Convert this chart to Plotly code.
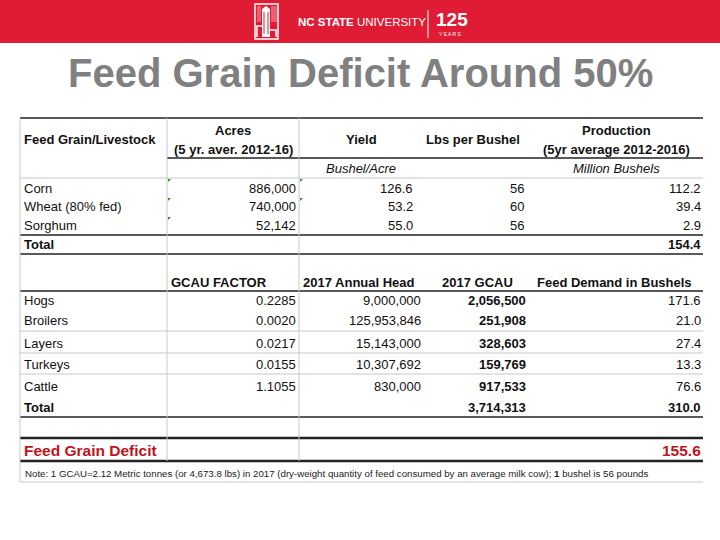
import plotly.graph_objects as go

# ---- data ----
grain_names = ["Corn", "Wheat (80% fed)", "Sorghum"]
grain_acres = [886000, 740000, 52142]
grain_yield = [126.6, 53.2, 55.0]
grain_lbs = [56, 60, 56]
grain_production = [112.2, 39.4, 2.9]
grain_total = 154.4

livestock_names = ["Hogs", "Broilers", "Layers", "Turkeys", "Cattle"]
gcau_factor = [0.2285, 0.0020, 0.0217, 0.0155, 1.1055]
annual_head = [9000000, 125953846, 15143000, 10307692, 830000]
gcau_2017 = [2056500, 251908, 328603, 159769, 917533]
feed_demand = [171.6, 21.0, 27.4, 13.3, 76.6]
gcau_total = 3714313
demand_total = 310.0
deficit = 155.6

title = "Feed Grain Deficit Around 50%"
note = ("Note: 1 GCAU=2.12 Metric tonnes (or 4,673.8 lbs) in 2017 (dry-weight quantity of "
        "feed consumed by an average milk cow); <b>1</b> bushel is 56 pounds")

# ---- layout (pixel-like axis units) ----
RED = "#e01c35"
DARK = "#222222"
GRID = "#c8c8c8"
FONT = "Liberation Sans, Arial, sans-serif"

L, R = 20, 703
C1, C2 = 167, 299
grain_rows = [188, 206, 225]
stock_rows = [300, 320, 343, 364, 386]

fig = go.Figure()
ann = []


def txt(x, y, s, anchor="left", size=13, color="#111111", family=FONT):
    ann.append(dict(x=x, y=y, xref="x", yref="y", text=s, showarrow=False,
                    xanchor=anchor, yanchor="middle",
                    font=dict(size=size, color=color, family=family)))


shapes = []


def hline(y, x0=L, x1=R, color=DARK, width=1.5):
    shapes.append(dict(type="line", xref="x", yref="y", x0=x0, x1=x1, y0=y, y1=y,
                       line=dict(color=color, width=width)))


def vline(x, y0, y1, color=GRID, width=1):
    shapes.append(dict(type="line", xref="x", yref="y", x0=x, x1=x, y0=y0, y1=y1,
                       line=dict(color=color, width=width)))


# banner
shapes.append(dict(type="rect", xref="x", yref="y", x0=0, x1=720, y0=0, y1=43,
                   fillcolor=RED, line=dict(width=0), layer="below"))
# logo (rough belltower mark)
shapes.append(dict(type="rect", xref="x", yref="y", x0=255, x1=278, y0=4, y1=39,
                   line=dict(color="white", width=1.5)))
for lx in [258, 260, 272, 274, 276]:
    vline(lx, 6, 22, color="#f4a0aa", width=1)
shapes.append(dict(type="path", xref="x", yref="y",
                   path="M 262 37 L 262 9 L 266 6 L 270 9 L 270 37 Z",
                   fillcolor="white", line=dict(width=0)))
shapes.append(dict(type="path", xref="x", yref="y",
                   path="M 257 37 L 257 26 L 262 26 M 270 30 L 276 30 L 276 37",
                   line=dict(color="white", width=1.5)))
vline(264, 12, 34, color=RED, width=1)
vline(268, 12, 34, color=RED, width=1)
txt(296, 22, "<b>NC STATE</b> UNIVERSITY", size=11.5, color="white")
vline(428, 10, 38, color="white", width=1)
txt(434, 19, "<b>125</b>", size=19, color="white")
txt(437, 34, "Y E A R S", size=5, color="white")

# title
txt(360, 73, "<b>" + title + "</b>", anchor="center", size=40, color="#808080")

# ---- grid lines ----
hline(118)
hline(158, x0=C1)
hline(178, color=GRID, width=1)
hline(235)
hline(254)
hline(291)
for y in [331, 353, 374]:
    hline(y, color=GRID, width=1)
hline(417)
hline(438, width=2.5)
hline(461, width=2.5)
hline(482, color=GRID, width=1)
vline(L, 118, 482)
vline(C1, 118, 461)
vline(C2, 118, 461)

# green error markers
for gx, gy in [(C1, 179), (C1, 198), (C1, 217), (C2, 179), (C2, 198)]:
    shapes.append(dict(type="path", xref="x", yref="y",
                       path=f"M {gx+1} {gy} L {gx+4} {gy} L {gx+1} {gy+3} Z",
                       fillcolor="#2e8b2e", line=dict(width=0)))

# ---- section 1: feed grain ----
txt(L + 2, 139, "<b>Feed Grain/Livestock</b>")
txt(233, 130, "<b>Acres</b>", anchor="center")
txt(233, 149, "<b>(5 yr. aver. 2012-16)</b>", anchor="center")
txt(361, 139, "<b>Yield</b>", anchor="center")
txt(473, 139, "<b>Lbs per Bushel</b>", anchor="center")
txt(616, 130, "<b>Production</b>", anchor="center")
txt(616, 149, "<b>(5yr average 2012-2016)</b>", anchor="center")
txt(361, 168, "<i>Bushel/Acre</i>", anchor="center")
txt(616, 168, "<i>Million Bushels</i>", anchor="center")

for i, name in enumerate(grain_names):
    y = grain_rows[i]
    txt(L + 2, y, name)
    txt(298, y, f"{grain_acres[i]:,}", anchor="right")
    txt(415, y, f"{grain_yield[i]:.1f}", anchor="right")
    txt(526, y, f"{grain_lbs[i]}", anchor="right")
    txt(703, y, f"{grain_production[i]:.1f}", anchor="right")
txt(L + 2, 244, "<b>Total</b>")
txt(703, 244, f"<b>{grain_total:.1f}</b>", anchor="right")

# ---- section 2: livestock demand ----
txt(169, 282, "<b>GCAU FACTOR</b>")
txt(301, 282, "<b>2017 Annual Head</b>")
txt(440, 282, "<b>2017 GCAU</b>")
txt(535, 282, "<b>Feed Demand in Bushels</b>")
for i, name in enumerate(livestock_names):
    y = stock_rows[i]
    txt(L + 2, y, name)
    txt(298, y, f"{gcau_factor[i]:.4f}", anchor="right")
    txt(423, y, f"{annual_head[i]:,}", anchor="right")
    txt(528, y, f"<b>{gcau_2017[i]:,}</b>", anchor="right")
    txt(703, y, f"{feed_demand[i]:.1f}", anchor="right")
txt(L + 2, 407, "<b>Total</b>")
txt(528, 407, f"<b>{gcau_total:,}</b>", anchor="right")
txt(703, 407, f"<b>{demand_total:.1f}</b>", anchor="right")

# ---- deficit + note ----
txt(L + 2, 450, "<b>Feed Grain Deficit</b>", size=15.5, color="#c0141c")
txt(703, 450, f"<b>{deficit:.1f}</b>", anchor="right", size=15.5, color="#c0141c")
txt(L + 3, 473, note, size=9.7, color="#222222")

fig.update_layout(
    width=720, height=540,
    margin=dict(l=0, r=0, t=0, b=0),
    paper_bgcolor="white", plot_bgcolor="white",
    xaxis=dict(range=[0, 720], visible=False, fixedrange=True),
    yaxis=dict(range=[540, 0], visible=False, fixedrange=True),
    shapes=shapes, annotations=ann, showlegend=False,
)

fig.write_html("out.html", config={"displayModeBar": False},
               post_script="document.body.style.margin='0';")
